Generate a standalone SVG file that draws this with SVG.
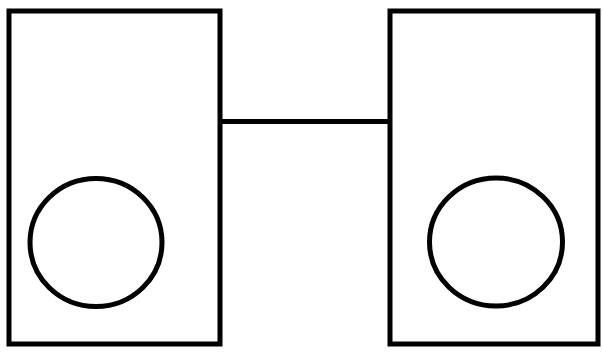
<svg xmlns="http://www.w3.org/2000/svg" width="603" height="354" viewBox="0 0 603 354">
<style>
.s{fill:none;stroke:#000;stroke-width:5}
</style>
<rect width="603" height="354" fill="#fff"/>
<g id="connectors">
<line class="s" x1="220" y1="121.5" x2="390" y2="121.5"/>
</g>
<g id="left-box">
<rect class="s" x="9" y="11" width="211" height="333"/>
<ellipse class="s" cx="96" cy="242.5" rx="66" ry="64"/>
</g>
<g id="right-box">
<rect class="s" x="390" y="11" width="208" height="333"/>
<ellipse class="s" cx="496" cy="242" rx="66.5" ry="64"/>
</g>
</svg>
